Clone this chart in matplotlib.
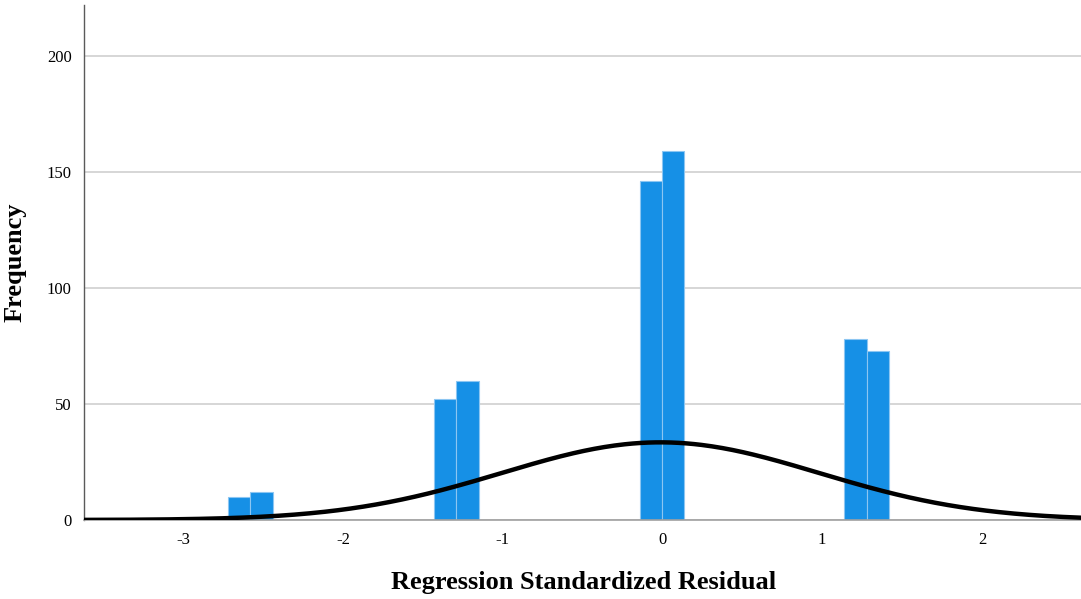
import numpy as np
import matplotlib
matplotlib.use("Agg")
import matplotlib.pyplot as plt

# Histogram of regression standardized residuals
bin_centers = [-2.65, -2.51, -1.36, -1.22, -0.07, 0.066, 1.21, 1.35]
frequencies = [10, 12, 52, 60, 146, 159, 78, 73]
bin_width = 0.141

x_ticks = [-3, -2, -1, 0, 1, 2]
y_ticks = [0, 50, 100, 150, 200]

serif = ["Liberation Serif", "DejaVu Serif"]

fig = plt.figure(figsize=(10.81, 5.99), dpi=100)
ax = fig.add_axes([84 / 1081, 79 / 599, 997 / 1081, 515 / 599])

ax.bar(bin_centers, frequencies, width=bin_width, color="#1690e6",
       edgecolor="#8cc6f2", linewidth=0.8, zorder=2)

# Normal curve fitted to the histogram
centers = np.array(bin_centers)
counts = np.array(frequencies)
n = counts.sum()
mu = (centers * counts).sum() / n
sd = np.sqrt(((centers - mu) ** 2 * counts).sum() / n)
xs = np.linspace(-3.7, 2.7, 400)
ys = n * bin_width * np.exp(-0.5 * ((xs - mu) / sd) ** 2) / (sd * np.sqrt(2 * np.pi))
ax.plot(xs, ys, color="black", linewidth=3.2, zorder=3, solid_capstyle="butt")

ax.set_xlim(-3.62, 2.62)
ax.set_ylim(0, 222)
ax.set_xticks(x_ticks)
ax.set_yticks(y_ticks)
ax.set_xticklabels([str(v) for v in x_ticks], family=serif, fontsize=12)
ax.set_yticklabels([str(v) for v in y_ticks], family=serif, fontsize=12)
ax.tick_params(axis="both", length=0)
ax.tick_params(axis="x", pad=9)
ax.tick_params(axis="y", pad=9)

ax.grid(axis="y", color="#d0d0d0", linewidth=1.2, zorder=0)
ax.set_axisbelow(True)
for side in ("top", "right"):
    ax.spines[side].set_visible(False)
ax.spines["left"].set_color("#5a5a5a")
ax.spines["left"].set_linewidth(1.0)
ax.spines["bottom"].set_color("#a0a0a0")
ax.spines["bottom"].set_linewidth(1.2)

ax.set_xlabel("Regression Standardized Residual", family=serif, fontsize=19,
              fontweight="bold")
ax.set_ylabel("Frequency", family=serif, fontsize=19, fontweight="bold")
ax.xaxis.set_label_coords(0.501, -0.100)
ax.yaxis.set_label_coords(-0.058, 0.50)

fig.savefig("out.png", dpi=100)
